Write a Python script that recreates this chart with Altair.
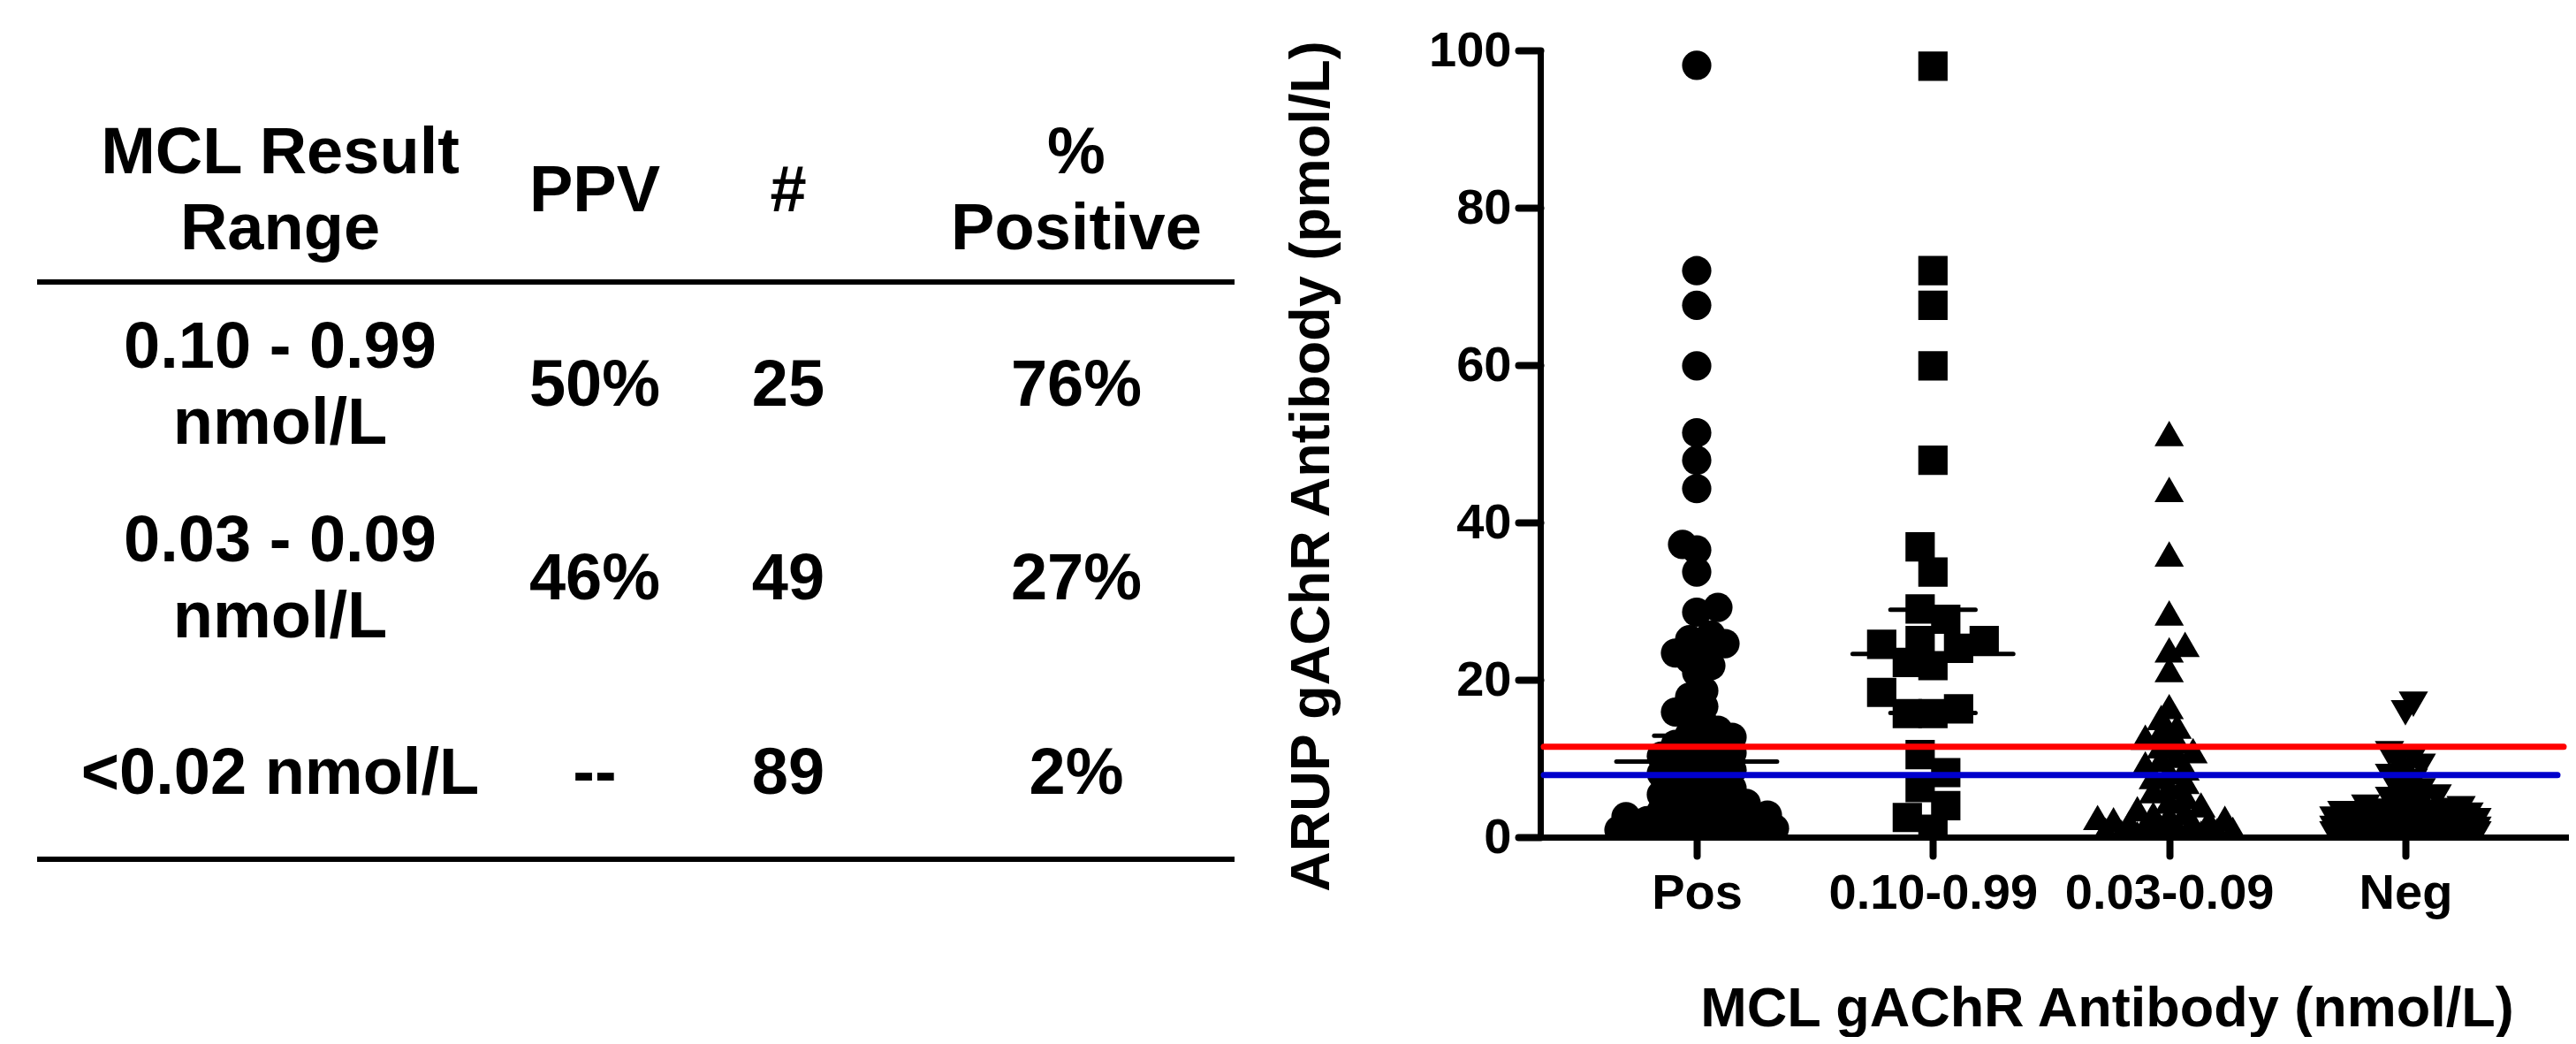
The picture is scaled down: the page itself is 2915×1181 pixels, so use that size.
import json
import math

import altair as alt
import pandas as pd

# ---------------- data ----------------
CATEGORIES = ["Pos", "0.10-0.99", "0.03-0.09", "Neg"]
SHAPES = ["circle", "square", "triangle-up", "triangle-down"]

POS_VALUES = [
    0.1, 0.2, 0.2, 0.4, 0.5, 0.7, 0.8, 0.9,
    1.1, 1.3, 1.4, 1.7, 1.9,
    2.1, 2.3, 2.6, 2.8, 2.9,
    3.1, 3.3, 3.6, 3.9,
    4.3, 4.7, 5.0, 5.4, 5.8,
    6.2, 6.6, 7.0, 7.4, 7.8,
    8.1, 8.5, 8.9, 9.2, 9.6, 9.9,
    10.3, 10.7, 11.0, 11.4, 11.8,
    12.2, 12.7, 13.1, 13.6,
    14.4, 15.2, 15.9, 16.6,
    17.8, 18.6,
    20.9, 21.8, 22.6,
    23.4, 24.0, 24.6, 25.1, 25.7,
    28.6, 29.2, 33.7, 36.5, 37.2, 44.3, 47.9, 51.4, 59.9, 67.6, 72.0, 98.1,
]
R010_VALUES = [
    98.0, 72.0, 67.6, 59.9, 47.9, 36.9, 33.7, 29.0, 27.7, 25.0, 25.0, 24.0, 24.5,
    21.8, 22.2, 18.4, 15.7, 16.3, 15.7, 10.5, 8.2, 6.3, 4.0, 2.5, 1.0,
]
R003_VALUES = [
    51.3, 44.2, 36.0, 28.5, 24.5, 23.8, 21.3, 16.6,
    15.2, 14.1, 13.4,
    12.7, 12.2, 11.6, 11.0,
    10.4, 9.9, 9.3, 8.8, 8.3,
    7.7, 7.1, 6.4, 5.9,
    5.2, 4.6, 4.1, 3.6, 3.2,
    2.9, 2.7, 2.5, 2.4, 2.2, 2.0, 1.8, 1.7, 1.5, 1.3,
    1.2, 1.0, 0.9, 0.8, 0.6, 0.5, 0.4, 0.3, 0.2, 0.1,
]
NEG_VALUES = [
    16.9, 15.8,
    10.6, 10.1, 9.6, 9.0, 8.4, 7.7, 7.1, 6.5,
    5.9, 5.5, 5.1, 4.8, 4.4, 4.1, 3.8, 3.6,
    3.4, 3.3, 3.2, 3.1, 3.0, 2.9, 2.9, 2.8, 2.7, 2.6,
    2.6, 2.5, 2.4, 2.3, 2.3, 2.2, 2.1, 2.0, 2.0, 1.9,
    1.8, 1.8, 1.7, 1.6, 1.6, 1.5, 1.5, 1.4, 1.3, 1.3,
    1.2, 1.2, 1.1, 1.1, 1.0, 1.0, 0.9, 0.9, 0.9, 0.8,
    0.8, 0.8, 0.7, 0.7, 0.7, 0.6, 0.6, 0.6, 0.5, 0.5,
    0.5, 0.5, 0.4, 0.4, 0.4, 0.4, 0.3, 0.3, 0.3, 0.3,
    0.2, 0.2, 0.2, 0.2, 0.1, 0.1, 0.1, 0.1, 0.0, 0.0, 0.0,
]
GROUP_VALUES = [POS_VALUES, R010_VALUES, R003_VALUES, NEG_VALUES]

# median (wide bar) and quartile (short bar) lines
STAT_GROUP = ["Pos", "Pos", "0.10-0.99", "0.10-0.99", "0.10-0.99"]
STAT_KIND = ["median", "quartile", "median", "quartile", "quartile"]
STAT_VALUE = [9.6, 12.9, 23.3, 28.9, 15.8]

CUTOFF_NAMES = ["upper", "lower"]
CUTOFF_VALUES = [11.5, 7.9]
CUTOFF_COLORS = ["#FF0000", "#0000CC"]

Y_TICKS = [0, 20, 40, 60, 80, 100]
X_TITLE = "MCL gAChR Antibody (nmol/L)"
Y_TITLE = "ARUP gAChR Antibody (pmol/L)"

TABLE_ROW_KEYS = ["header", "r1", "r2", "r3"]
TABLE_COLUMNS = [
    ["MCL Result\nRange", "0.10 - 0.99\nnmol/L", "0.03 - 0.09\nnmol/L", "<0.02 nmol/L"],
    ["PPV", "50%", "46%", "--"],
    ["#", "25", "49", "89"],
    ["%\nPositive", "76%", "27%", "2%"],
]

# ---------------- layout / style ----------------
W, H = 1163, 890
X_DOMAIN = [0.3379, 4.6884]
PX_X = W / (X_DOMAIN[1] - X_DOMAIN[0])
PX_Y = H / 100.0
FONT = "Liberation Sans"
MARK_SIZE = 1100
# swarm parameters per group: (min distance px, step px, max offset px)
SWARM = [(17, 8, 88), (29, 14.5, 73), (15, 9, 86), (12, 9, 88)]
MEDIAN_HALF = 0.34
QUART_HALF = 0.18
TABLE_FONT_SIZE = 74
TABLE_LINE_HEIGHT = 86
TABLE_COL_X = [-1426, -1070, -851, -525]
TABLE_ROW_RANGE = [160, 819]
TABLE_RULES_Y = [262, 915]
TABLE_RULE_X = [-1701, -346]
CUTOFF_X = [4, [1158, 1151]]


def swarm(values, min_dist, step, max_off):
    order = sorted(range(len(values)), key=lambda i: (values[i], i))
    placed = []
    offs = [0.0] * len(values)
    nsteps = int(max_off // step)
    for n, i in enumerate(order):
        y = values[i] * PX_Y
        sign = 1 if n % 2 == 0 else -1
        cands = [0.0]
        for k in range(1, nsteps + 1):
            cands += [sign * k * step, -sign * k * step]
        chosen = None
        best_c, best_d = 0.0, -1.0
        for c in cands:
            d = min((math.hypot(c - px, y - py) for px, py in placed), default=1e9)
            if d >= min_dist:
                chosen = c
                break
            if d > best_d + 1e-9:
                best_d, best_c = d, c
        if chosen is None:
            chosen = best_c
        placed.append((chosen, y))
        offs[i] = chosen
    return offs


rows = []
for gi, (cat, vals) in enumerate(zip(CATEGORIES, GROUP_VALUES)):
    offs = swarm(vals, *SWARM[gi])
    for v, o in zip(vals, offs):
        rows.append({"group": cat, "value": v, "x": gi + 1 + o / PX_X})
pts = pd.DataFrame(rows)

stat_rows = []
for g, k, v in zip(STAT_GROUP, STAT_KIND, STAT_VALUE):
    c = CATEGORIES.index(g) + 1
    half = MEDIAN_HALF if k == "median" else QUART_HALF
    stat_rows.append({"value": v, "x1": c - half, "x2": c + half})
stats = pd.DataFrame(stat_rows)

x_scale = alt.Scale(domain=X_DOMAIN, nice=False, zero=False)
y_scale = alt.Scale(domain=[0, 100], nice=False, zero=True)

common_axis = dict(
    grid=False,
    domainColor="black",
    domainWidth=7,
    domainCap="round",
    tickColor="black",
    tickWidth=8,
    tickCap="round",
    labelFont=FONT,
    labelFontWeight="bold",
    labelFontSize=56,
    labelColor="black",
    labelLimit=600,
    labelOverlap=False,
    titleFont=FONT,
    titleFontWeight="bold",
    titleFontSize=63,
    titleColor="black",
    titleLimit=3000,
)

x_axis = alt.Axis(
    values=[1, 2, 3, 4],
    labelExpr=json.dumps(CATEGORIES) + "[datum.value - 1]",
    title=X_TITLE,
    tickSize=21,
    labelPadding=59,
    labelBaseline="alphabetic",
    labelAlign="center",
    labelFlush=False,
    titleX=641,
    titleY=213,
    titleBaseline="alphabetic",
    titleAlign="center",
    **common_axis,
)
y_axis = alt.Axis(
    values=Y_TICKS,
    title=Y_TITLE,
    tickSize=25,
    labelPadding=8,
    titleX=-240,
    titleY=470,
    titleAngle=270,
    titleBaseline="alphabetic",
    titleAlign="center",
    **common_axis,
)

points = alt.Chart(pts).mark_point(filled=True, opacity=1, clip=True, size=MARK_SIZE, color="black").encode(
    x=alt.X("x:Q", scale=x_scale, axis=x_axis),
    y=alt.Y("value:Q", scale=y_scale, axis=y_axis),
    shape=alt.Shape("group:N", scale=alt.Scale(domain=CATEGORIES, range=SHAPES), legend=None),
)

stat_lines = alt.Chart(stats).mark_rule(color="black", strokeWidth=5, strokeCap="round").encode(
    x=alt.X("x1:Q", scale=x_scale),
    x2="x2:Q",
    y=alt.Y("value:Q", scale=y_scale),
)

cutoff_layers = []
for name, val, col, xend in zip(CUTOFF_NAMES, CUTOFF_VALUES, CUTOFF_COLORS, CUTOFF_X[1]):
    df = pd.DataFrame({"name": [name], "value": [val]})
    cutoff_layers.append(
        alt.Chart(df).mark_rule(color=col, strokeWidth=7, strokeCap="round").encode(
            y=alt.Y("value:Q", scale=y_scale),
            x=alt.value(CUTOFF_X[0]),
            x2=alt.value(xend),
        )
    )

scatter = alt.layer(points, stat_lines, *cutoff_layers)

row_scale = alt.Scale(domain=TABLE_ROW_KEYS, range=TABLE_ROW_RANGE, padding=0)
table_layers = []
for j, col_texts in enumerate(TABLE_COLUMNS):
    df = pd.DataFrame({"row": TABLE_ROW_KEYS, "text": col_texts})
    df["lines"] = df["text"].str.count("\n") + 1
    for nlines in sorted(df["lines"].unique()):
        sub = df[df["lines"] == nlines][["row", "text"]]
        table_layers.append(
            alt.Chart(sub).mark_text(
                font=FONT, fontWeight="bold", fontSize=TABLE_FONT_SIZE, color="black",
                align="center", baseline="middle", lineBreak="\n",
                lineHeight=TABLE_LINE_HEIGHT,
                dy=-(int(nlines) - 1) * TABLE_LINE_HEIGHT / 2,
            ).encode(
                x=alt.value(TABLE_COL_X[j]),
                y=alt.Y("row:N", scale=row_scale, axis=None),
                text="text:N",
            )
        )
for ry in TABLE_RULES_Y:
    table_layers.append(
        alt.Chart(pd.DataFrame({"k": [ry]})).mark_rule(color="black", strokeWidth=6).encode(
            y=alt.value(ry), x=alt.value(TABLE_RULE_X[0]), x2=alt.value(TABLE_RULE_X[1])
        )
    )
table = alt.layer(*table_layers)

chart = (
    alt.layer(scatter, table)
    .resolve_scale(y="independent")
    .properties(
        width=W,
        height=H,
        autosize=alt.AutoSizeParams(type="none"),
        padding={"left": 1735, "top": 49, "right": 1, "bottom": 226},
    )
    .configure_view(stroke=None)
)

chart.save("out.html", embed_options={"renderer": "svg", "actions": False})
